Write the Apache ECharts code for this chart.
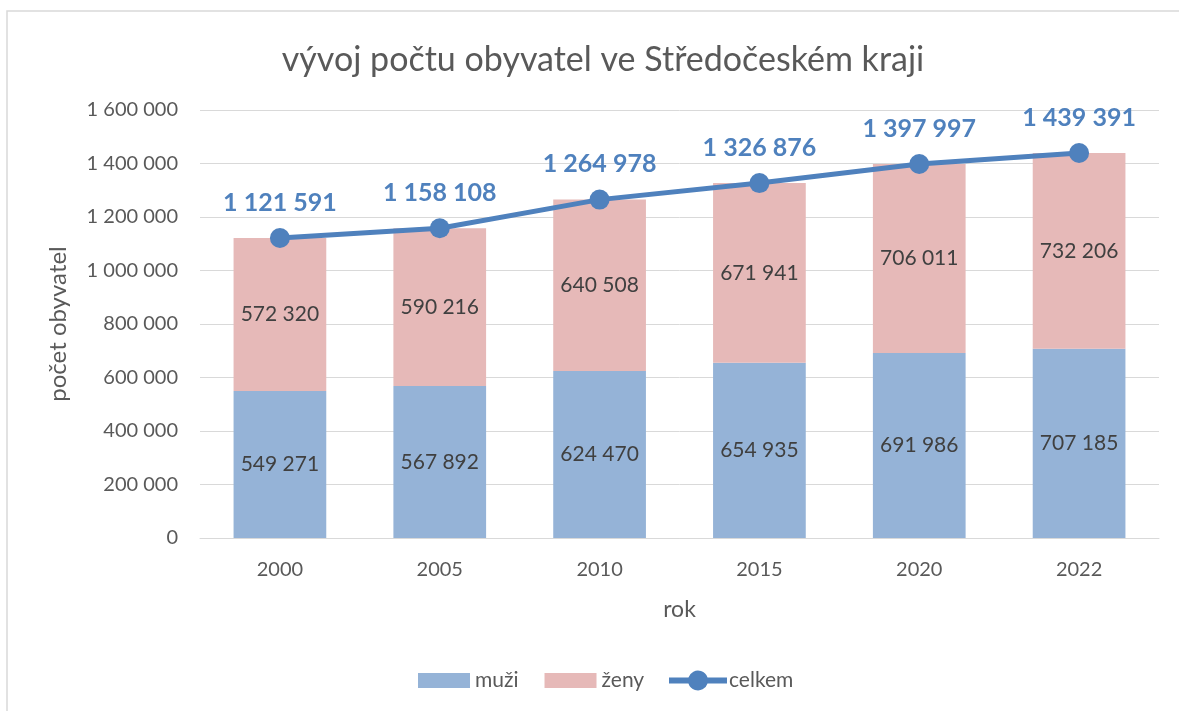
<!DOCTYPE html>
<html><head><meta charset="utf-8">
<script src="https://cdn.jsdelivr.net/npm/echarts@6/dist/echarts.min.js"></script>
<style>html,body{margin:0;padding:0;background:#fff}#c{width:1179px;height:711px}</style>
</head><body><div id="c"></div>
<script>
const years = ['2000','2005','2010','2015','2020','2022'];
const muzi = [549271, 567892, 624470, 654935, 691986, 707185];
const zeny = [572320, 590216, 640508, 671941, 706011, 732206];
const celkem = [1121591, 1158108, 1264978, 1326876, 1397997, 1439391];

const FONT = 'Lato, "Open Sans", sans-serif';
function fmt(v){ return String(v).replace(/\B(?=(\d{3})+(?!\d))/g, ' '); }
const lineIcon = 'path://M0,7 L19.46,7 A10,10 0 0,1 38.54,7 L58,7 L58,13 L38.54,13 A10,10 0 0,1 19.46,13 L0,13 Z';

const chart = echarts.init(document.getElementById('c'));
chart.setOption({
  backgroundColor: '#fff',
  animation: false,
  textStyle: { fontFamily: FONT },
  graphic: [{
    type: 'rect', shape: { x: 7, y: 11, width: 1200, height: 720 },
    style: { fill: 'none', stroke: '#d9d9d9', lineWidth: 1.5 }, silent: true
  }],
  title: {
    text: 'vývoj počtu obyvatel ve Středočeském kraji',
    left: 598, textAlign: 'center', top: 38,
    textStyle: { fontFamily: FONT, fontSize: 34, fontWeight: 'normal', color: '#595959' }
  },
  legend: [{
    top: 665, left: 413,
    itemWidth: 52, itemHeight: 15, itemGap: 26,
    textStyle: { fontFamily: FONT, fontSize: 21, color: '#595959' },
    data: [{ name: 'muži', icon: 'rect' }, { name: 'ženy', icon: 'rect' }]
  }, {
    top: 665, left: 664,
    itemWidth: 58, itemHeight: 20, itemGap: 2,
    textStyle: { fontFamily: FONT, fontSize: 21, color: '#595959', padding: [0,0,0,-3] },
    data: [{ name: 'celkem', icon: lineIcon }]
  }],
  grid: { left: 200, right: 20, top: 110, bottom: 173 },
  xAxis: {
    type: 'category', data: years,
    name: 'rok', nameLocation: 'middle', nameGap: 60,
    nameTextStyle: { fontFamily: FONT, fontSize: 23, color: '#595959' },
    axisLine: { lineStyle: { color: '#d9d9d9', width: 1 } },
    axisTick: { show: false },
    axisLabel: { fontFamily: FONT, fontSize: 20, color: '#595959', margin: 22 }
  },
  yAxis: {
    type: 'value', min: 0, max: 1600000, interval: 200000,
    name: 'počet obyvatel', nameLocation: 'middle', nameGap: 130, nameRotate: 90,
    nameTextStyle: { fontFamily: FONT, fontSize: 24, color: '#595959' },
    axisLine: { show: false }, axisTick: { show: false },
    splitLine: { lineStyle: { color: '#d9d9d9', width: 1 } },
    axisLabel: { fontFamily: FONT, fontSize: 20, color: '#595959', margin: 22, formatter: v => fmt(v) }
  },
  series: [
    {
      name: 'muži', type: 'bar', stack: 't', data: muzi, barWidth: '58%',
      itemStyle: { color: '#95b3d7' },
      label: { show: true, position: 'inside', fontFamily: FONT, fontSize: 21, color: '#404040', formatter: p => fmt(p.value) }
    },
    {
      name: 'ženy', type: 'bar', stack: 't', data: zeny, barWidth: '58%',
      itemStyle: { color: '#e6b9b8' },
      label: { show: true, position: 'inside', fontFamily: FONT, fontSize: 21, color: '#404040', formatter: p => fmt(p.value) }
    },
    {
      name: 'celkem', type: 'line', data: celkem, z: 5,
      symbol: 'circle', symbolSize: 20,
      lineStyle: { color: '#4f81bd', width: 5 },
      itemStyle: { color: '#4f81bd' },
      label: { show: true, position: 'top', distance: 13, fontFamily: FONT, fontSize: 25, fontWeight: 'bold', color: '#4f81bd', formatter: p => fmt(p.value) }
    }
  ]
});
</script></body></html>
